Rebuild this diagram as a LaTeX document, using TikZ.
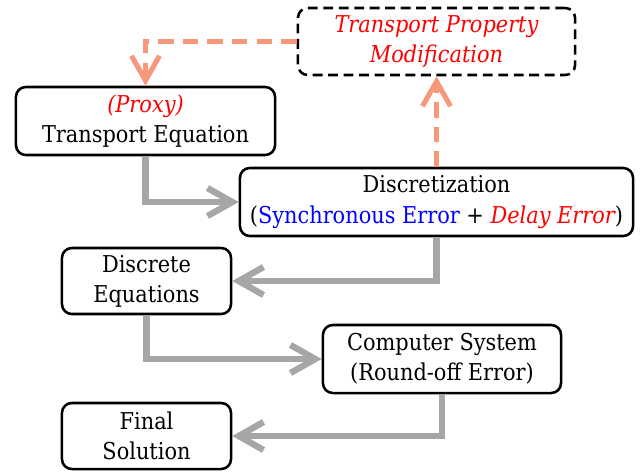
\documentclass[tikz,border=0pt]{standalone}
\usepackage{fontspec}
\setmainfont{DejaVu Serif Condensed}
\usetikzlibrary{arrows.meta}

\definecolor{salmon}{RGB}{248,152,122}
\definecolor{flowgray}{RGB}{166,166,166}
\definecolor{errred}{RGB}{255,0,0}
\definecolor{errblue}{RGB}{0,0,255}

\tikzset{
    box/.style={draw,line width=1.8pt,rounded corners=7pt,align=center,inner sep=0pt,
        fill=white,font=\fontsize{16.5}{21.5}\selectfont},
    dashbox/.style={box,dash pattern=on 7pt off 4pt},
    flow/.style={draw=flowgray,line width=4.5pt,
        -{Straight Barb[length=0.62cm,width=0.7cm]}},
    feedback/.style={draw=salmon,line width=3.6pt,dash pattern=on 11pt off 6.5pt,
        -{Straight Barb[length=0.62cm,width=0.7cm]}}
}

\begin{document}
\begin{tikzpicture}[x=0.025cm,y=-0.025cm]
    \useasboundingbox (0,0) rectangle (643,474);

    % boxes
    \node[dashbox,minimum width=6.925cm,minimum height=1.675cm] (tpm) at (436.5,41.5)
        {\color{errred}\itshape Transport Property\\\color{errred}\itshape Modification};
    \node[box,minimum width=6.475cm,minimum height=1.7cm] (teq) at (145.5,121)
        {\color{errred}\itshape (Proxy)\\Transport Equation};
    \node[box,minimum width=9.825cm,minimum height=1.7cm] (disc) at (436.5,202)
        {Discretization\\({\color{errblue}Synchronous Error} + {\color{errred}\itshape Delay Error})};
    \node[box,minimum width=4.225cm,minimum height=1.65cm] (deq) at (146.5,281)
        {Discrete\\Equations};
    \node[box,minimum width=5.95cm,minimum height=1.7cm] (comp) at (442,359)
        {Computer System\\(Round-off Error)};
    \node[box,minimum width=4.225cm,minimum height=1.65cm] (final) at (146.5,436)
        {Final\\Solution};

    % main flow
    \draw[flow] (teq.south) |- (disc.west);
    \draw[flow] (disc.south) |- (deq.east);
    \draw[flow] (deq.south) |- (comp.west);
    \draw[flow] (comp.south) |- (final.east);

    % feedback loop
    \draw[feedback] (disc.north) -- (tpm.south);
    \draw[feedback] (tpm.west) -| (teq.north);
\end{tikzpicture}
\end{document}
